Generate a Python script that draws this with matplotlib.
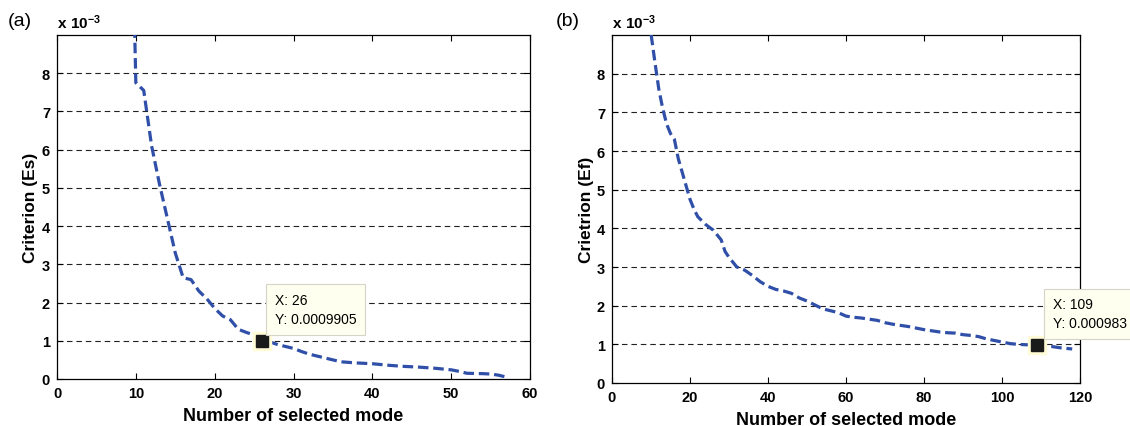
import matplotlib
matplotlib.use("Agg")
import matplotlib.pyplot as plt
import numpy as np

plt.rcParams['font.family'] = ['Liberation Sans', 'DejaVu Sans']
plt.rcParams['mathtext.fontset'] = 'custom'
plt.rcParams['mathtext.rm'] = 'Liberation Sans'
plt.rcParams['mathtext.bf'] = 'Liberation Sans:bold'

# ---- data (values in units of 1e-3) ----
a_modes = [9.8, 10, 10.5, 11, 12, 13, 14, 15, 16, 17, 18, 19, 20, 21, 22, 23, 24, 25, 26,
           27, 28, 29, 30, 31, 32, 33, 34, 35, 36, 38, 40, 42, 44, 46, 48, 50, 51, 52, 54, 55, 56, 57]
a_crit = [9.6, 7.75, 7.65, 7.55, 6.1, 5.1, 4.2, 3.3, 2.65, 2.6, 2.3, 2.1, 1.85, 1.65, 1.55, 1.3, 1.22, 1.15, 0.9905,
          0.97, 0.9, 0.85, 0.8, 0.72, 0.65, 0.6, 0.55, 0.5, 0.45, 0.42, 0.40, 0.36, 0.33, 0.31, 0.28, 0.24, 0.2, 0.15, 0.14, 0.13, 0.1, 0.05]

b_modes = [9.5, 11, 12, 13, 14, 15, 16, 17, 18, 19, 20, 21, 22, 24, 26, 28, 29, 30, 32, 34, 36, 38, 40,
           42, 44, 46, 48, 50, 52, 54, 56, 58, 60, 62, 64, 66, 68, 70, 72, 74, 76, 78, 80, 82, 84, 86, 88,
           90, 92, 94, 96, 98, 100, 102, 104, 106, 109, 111, 113, 115, 118]
b_crit = [9.4, 8.3, 7.6, 7.1, 6.7, 6.45, 6.3, 5.8, 5.45, 5.1, 4.75, 4.5, 4.3, 4.1, 3.95, 3.7, 3.4, 3.25, 3.0, 2.92, 2.78, 2.62, 2.5,
          2.42, 2.38, 2.32, 2.2, 2.12, 2.02, 1.92, 1.87, 1.82, 1.73, 1.7, 1.68, 1.65, 1.62, 1.56, 1.52, 1.49, 1.46, 1.42, 1.38, 1.35, 1.32, 1.3, 1.29,
          1.25, 1.23, 1.2, 1.14, 1.1, 1.06, 1.02, 1.0, 0.99, 0.983, 0.96, 0.94, 0.91, 0.88]

a_pick = (26, 0.9905)
b_pick = (109, 0.983)
a_label = "X: 26\nY: 0.0009905"
b_label = "X: 109\nY: 0.000983"

yticks = [0, 1, 2, 3, 4, 5, 6, 7, 8]
a_xticks = [0, 10, 20, 30, 40, 50, 60]
b_xticks = [0, 20, 40, 60, 80, 100, 120]

LINE = '#2f4fa8'
W, H = 1130, 427
fig = plt.figure(figsize=(W / 100, H / 100), dpi=100)

ax1 = fig.add_axes([57 / W, 1 - 380 / H, 473 / W, 344 / H])
ax2 = fig.add_axes([612 / W, 1 - 384 / H, 468 / W, 348 / H])

def style(ax, xticks, xlim, ylabel, ypad):
    ax.set_xlim(*xlim)
    ax.set_ylim(0, 9)
    ax.set_xticks(xticks)
    ax.set_yticks(yticks)
    ax.tick_params(direction='in', top=True, right=True, length=4, width=0.8,
                   labelsize=10.5, pad=5)
    for lab in ax.get_xticklabels() + ax.get_yticklabels():
        lab.set_fontweight('bold')
    for s in ax.spines.values():
        s.set_linewidth(0.9)
    for y in yticks[1:]:
        ax.axhline(y, color='#222222', lw=0.8, ls=(0, (5, 3.5)), zorder=1)
    ax.set_xlabel('Number of selected mode', fontsize=13, fontweight='bold', labelpad=5)
    ax.set_ylabel(ylabel, fontsize=12.5, fontweight='bold', labelpad=ypad)
    ax.text(0.0, 1.012, r'$\mathbf{x\ 10^{-3}}$', transform=ax.transAxes, fontsize=11,
            ha='left', va='bottom')

style(ax1, a_xticks, (0, 60), 'Criterion (Es)', 3)
style(ax2, b_xticks, (0, 120), 'Crietrion (Ef)', 2)

for ax, xs, ys, pick, lab, boxpos in [
        (ax1, a_modes, a_crit, a_pick, a_label, (27.6, 1.38)),
        (ax2, b_modes, b_crit, b_pick, b_label, (113.0, 1.36))]:
    ax.plot(xs, ys, color=LINE, lw=2.3, ls=(0, (3.3, 1.5)), zorder=3)
    ax.plot([pick[0]], [pick[1]], marker='s', ms=13, color='#fffbd6', zorder=4, ls='none')
    ax.plot([pick[0]], [pick[1]], marker='s', ms=8.3, color='#1a1a1a', zorder=5, ls='none')
    ax.text(boxpos[0], boxpos[1], lab, fontsize=10, ha='left', va='bottom',
            linespacing=1.5, zorder=6, clip_on=False,
            bbox=dict(boxstyle='square,pad=0.6', fc='#fffff0', ec='#d4d4c8', lw=0.8))

fig.text(8 / W, 1 - 22 / H, '(a)', fontsize=14, ha='left', va='center')
fig.text(556 / W, 1 - 22 / H, '(b)', fontsize=14, ha='left', va='center')

fig.savefig('out.png', dpi=100)
